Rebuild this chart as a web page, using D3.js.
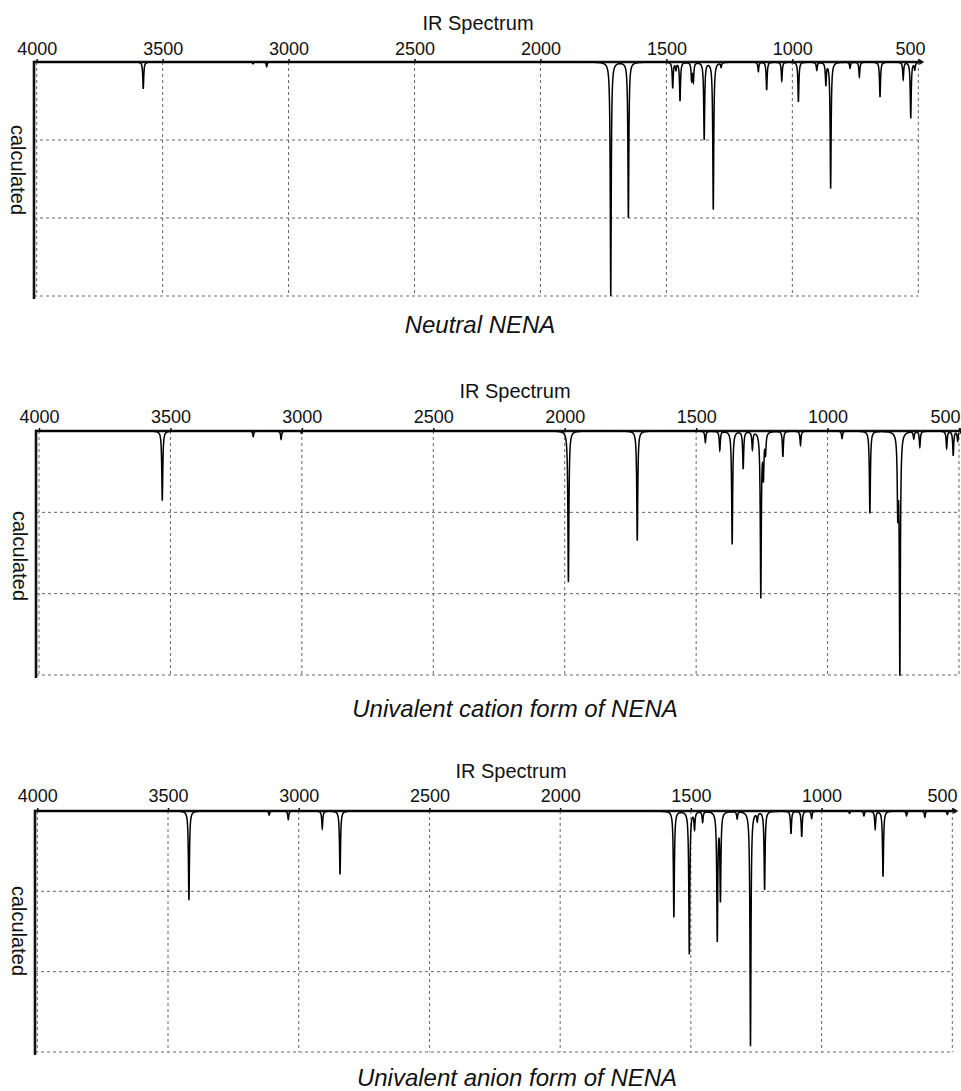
<!DOCTYPE html>
<html>
<head>
<meta charset="utf-8">
<script src="https://cdn.jsdelivr.net/npm/d3@7"></script>
<style>
  html, body { margin: 0; padding: 0; background: #fff; }
  svg { display: block; }
  text { font-family: "Liberation Sans", Arial, sans-serif; fill: #111; }
</style>
</head>
<body>
<svg id="chart" width="961" height="1091"></svg>
<script>
// ---------------- data ----------------
const tickValues = [4000, 3500, 3000, 2500, 2000, 1500, 1000, 500];
const titles = ["IR Spectrum", "IR Spectrum", "IR Spectrum"];
const yLabels = ["calculated", "calculated", "calculated"];
const captions = ["Neutral NENA", "Univalent cation form of NENA", "Univalent anion form of NENA"];

// peak positions (cm^-1) and relative depths (% of panel height)
const neutralWn    = [3577, 3141, 3087, 1721, 1651, 1475, 1462, 1446, 1400, 1393, 1350, 1314, 1283, 1135, 1102, 1042, 976, 903, 867, 848, 771, 734, 652, 560, 530, 514];
const neutralDepth = [11.5,  0.8,  2.0,  100, 66.5, 11.0,  3.0, 16.5,  7.5,  8.0, 33.0, 63.0,  2.0,  4.0, 12.0,  8.0, 17.0, 3.4, 9.5, 54.0, 2.6, 6.3, 15.0, 7.3, 24.0, 3.0];

const cationWn    = [3531, 3185, 3079, 3001, 1986, 1724, 1465, 1410, 1363, 1321, 1286, 1254, 1244, 1236, 1170, 1103, 945, 839, 733, 725, 672, 649, 547, 522, 505];
const cationDepth = [28.6,  2.3,  3.4,  1.0, 62.0, 45.0,  4.6,  7.8, 46.4, 15.3,  7.2, 67.6, 17.0,  8.0, 10.5,  5.8, 3.0, 33.7, 30.0, 99.0, 3.0, 6.4, 7.0, 10.0, 4.0];

const anionWn    = [3420, 3113, 3040, 2910, 2842, 1565, 1506, 1486, 1455, 1399, 1387, 1323, 1272, 1246, 1218, 1117, 1076, 1038, 893, 838, 795, 765, 675, 605, 519];
const anionDepth = [37.0,  1.7,  3.5,  7.2, 26.3, 44.0, 59.3,  7.0,  4.4, 53.0, 36.0,  3.0, 97.5,  3.6, 32.5,  9.4, 10.7,  3.0, 1.0, 2.0, 7.3, 27.2, 2.0, 2.6, 1.5];

// ---------------- layout ----------------
const panels = [
  { wn: neutralWn, depth: neutralDepth, xLeft: 36.7, xRight: 918.3, top: 62, bottom: 296, axisX: 34,
    titleX: 478, titleY: 30, tickY: 55, lastEnd: 925, capX: 480, capY: 333, ylX: 18, ylY: 170 },
  { wn: cationWn, depth: cationDepth, xLeft: 39, xRight: 959, top: 431, bottom: 675, axisX: 36,
    titleX: 515, titleY: 398, tickY: 422.5, lastEnd: 960, capX: 515, capY: 717, ylX: 20, ylY: 556 },
  { wn: anionWn, depth: anionDepth, xLeft: 37.3, xRight: 952.3, top: 811, bottom: 1052, axisX: 35,
    titleX: 511, titleY: 778, tickY: 802, lastEnd: 957, capX: 517, capY: 1086, ylX: 19, ylY: 931 }
];

const svg = d3.select("#chart");
svg.append("rect").attr("width", 961).attr("height", 1091).attr("fill", "#fff");

const gamma = 2.3; // Lorentzian half width (cm^-1)

panels.forEach((p, i) => {
  const g = svg.append("g");
  const x = d3.scaleLinear().domain([4000, 500]).range([p.xLeft, p.xRight]);
  const y = d3.scaleLinear().domain([0, 100]).range([p.top, p.bottom]);

  // grid
  const grid = g.append("g").attr("stroke", "#666").attr("stroke-width", 1)
    .attr("stroke-dasharray", "3,3").attr("fill", "none");
  tickValues.forEach(t => {
    grid.append("line").attr("x1", x(t)).attr("x2", x(t))
      .attr("y1", p.top).attr("y2", p.bottom);
  });
  [100 / 3, 200 / 3, 100].forEach(v => {
    grid.append("line").attr("x1", p.axisX).attr("x2", p.xRight)
      .attr("y1", y(v)).attr("y2", y(v));
  });

  // top axis with labels
  const axis = d3.axisTop(x).tickValues(tickValues).tickSize(3).tickPadding(4)
    .tickFormat(d3.format("d"));
  const ag = g.append("g").attr("transform", `translate(0,${p.top})`).call(axis);
  ag.select(".domain").remove();
  ag.selectAll(".tick line").attr("stroke", "#111").attr("stroke-width", 1.5);
  ag.selectAll(".tick text").attr("font-size", 18).attr("fill", "#111")
    .attr("font-family", '"Liberation Sans", Arial, sans-serif')
    .attr("y", p.tickY - p.top).attr("dy", 0);
  // last label (500) kept inside the plot edge, right-aligned
  ag.selectAll(".tick").filter(d => d === 500).select("text")
    .attr("text-anchor", "end").attr("x", p.lastEnd - x(500));

  // axis lines
  g.append("line").attr("x1", p.axisX).attr("x2", p.xRight + 2)
    .attr("y1", p.top).attr("y2", p.top).attr("stroke", "#111").attr("stroke-width", 2.6);
  g.append("path")
    .attr("d", `M${p.xRight + 1},${p.top - 3} L${p.xRight + 6},${p.top} L${p.xRight + 1},${p.top + 3} Z`)
    .attr("fill", "#111");
  g.append("line").attr("x1", p.axisX).attr("x2", p.axisX)
    .attr("y1", p.top - 1.3).attr("y2", p.bottom + 3).attr("stroke", "#111").attr("stroke-width", 2.6);

  // spectrum (Lorentzian-broadened peaks)
  const samples = [];
  for (let w = 4000; w >= 500; w -= 0.25) samples.push(w);
  const spec = samples.map(w => {
    let s = 0;
    for (let k = 0; k < p.wn.length; k++) {
      const d = (w - p.wn[k]) / gamma;
      s += p.depth[k] / (1 + d * d);
    }
    return [w, Math.min(s, 100)];
  });
  const line = d3.line().x(d => x(d[0])).y(d => y(d[1]));
  g.append("path").datum(spec).attr("d", line)
    .attr("fill", "none").attr("stroke", "#000").attr("stroke-width", 1.5);

  // texts
  g.append("text").attr("x", p.titleX).attr("y", p.titleY).attr("text-anchor", "middle")
    .attr("font-size", 20).text(titles[i]);
  g.append("text").attr("transform", `translate(${p.ylX},${p.ylY}) rotate(90)`)
    .attr("text-anchor", "middle").attr("dominant-baseline", "central")
    .attr("font-size", 20).text(yLabels[i]);
  g.append("text").attr("x", p.capX).attr("y", p.capY).attr("text-anchor", "middle")
    .attr("font-size", 24).attr("font-style", "italic").text(captions[i]);
});
</script>
</body>
</html>
